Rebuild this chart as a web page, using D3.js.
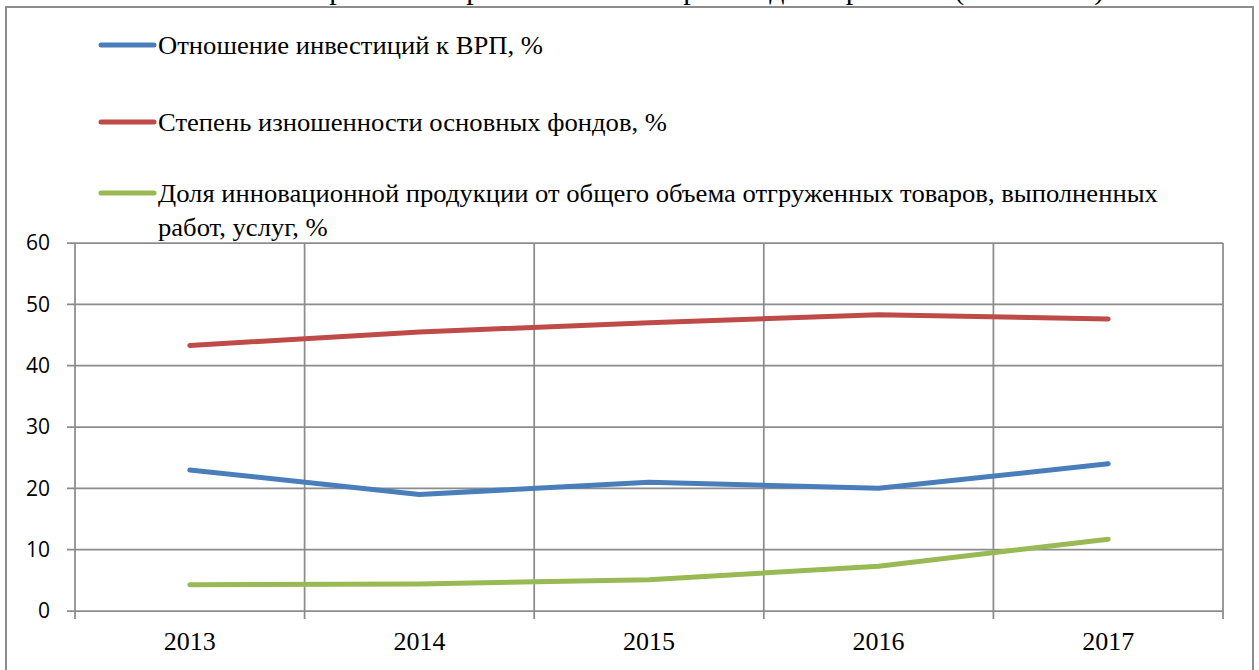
<!DOCTYPE html>
<html>
<head>
<meta charset="utf-8">
<script src="https://cdn.jsdelivr.net/npm/d3@7"></script>
<style>
  html, body { margin: 0; padding: 0; background: #fff; overflow: hidden; }
</style>
</head>
<body>
<div class="chart"></div>
<script>
// Data
const years = ['2013', '2014', '2015', '2016', '2017'];
const seriesNames = [
  'Отношение инвестиций к ВРП, %',
  'Степень изношенности основных фондов, %',
  'Доля инновационной продукции от общего объема отгруженных товаров, выполненных работ, услуг, %'
];
const investToGrp = [23, 19, 21, 20, 24];
const wearDegree = [43.3, 45.5, 47, 48.3, 47.6];
const innovShare = [4.3, 4.4, 5.1, 7.3, 11.7];
const yTicks = [0, 10, 20, 30, 40, 50, 60];
const colors = ['#4a7ebb', '#be4b48', '#98b954'];

const w = 1259;
const h = 670;
const plot = { left: 75, right: 1223, top: 243, bottom: 611 };
const gridColor = '#8c8c8c';

const series = [investToGrp, wearDegree, innovShare].map((values, i) => ({
  name: seriesNames[i],
  color: colors[i],
  values: values
}));

const svg = d3.select('.chart')
  .append('svg')
  .attr('width', w)
  .attr('height', h);

// title, cut off by the top edge as in the source picture
svg.append('text')
  .attr('x', 640)
  .attr('y', -1)
  .attr('text-anchor', 'middle')
  .style('font-family', '"Liberation Serif", "Times New Roman", serif')
  .style('font-size', '30px')
  .text('Показатели развития промышленного производства региона (2013-2017)');

// outer frame
svg.append('rect')
  .attr('x', 6)
  .attr('y', 7)
  .attr('width', 1247)
  .attr('height', 700)
  .attr('fill', 'none')
  .attr('stroke', gridColor)
  .attr('stroke-width', 2);

const xScale = d3.scaleBand()
  .domain(years)
  .range([plot.left, plot.right])
  .padding(0);

const yScale = d3.scaleLinear()
  .domain([0, 60])
  .range([plot.bottom, plot.top]);

// horizontal gridlines
svg.append('g')
  .selectAll('line')
  .data(yTicks)
  .enter()
  .append('line')
  .attr('x1', plot.left - 8)
  .attr('x2', plot.right)
  .attr('y1', (d) => yScale(d))
  .attr('y2', (d) => yScale(d))
  .attr('stroke', gridColor)
  .attr('stroke-width', 1.75);

// vertical gridlines at category boundaries
const bounds = years.map((y) => xScale(y)).concat([plot.right]);
svg.append('g')
  .selectAll('line')
  .data(bounds)
  .enter()
  .append('line')
  .attr('x1', (d) => d)
  .attr('x2', (d) => d)
  .attr('y1', plot.top)
  .attr('y2', plot.bottom + 8)
  .attr('stroke', gridColor)
  .attr('stroke-width', 1.75);

// y axis labels
const yAxis = d3.axisLeft(yScale)
  .tickValues(yTicks)
  .tickSize(0)
  .tickPadding(25);

const yAxisG = svg.append('g')
  .attr('transform', `translate(${plot.left},0)`)
  .call(yAxis);
yAxisG.select('.domain').remove();
yAxisG.selectAll('.tick text')
  .style('font-family', '"Open Sans", sans-serif')
  .style('font-size', '21px')
  .style('fill', '#000');

// x axis labels
const xAxis = d3.axisBottom(xScale)
  .tickSize(0)
  .tickPadding(21);

const xAxisG = svg.append('g')
  .attr('transform', `translate(0,${plot.bottom})`)
  .call(xAxis);
xAxisG.select('.domain').remove();
xAxisG.selectAll('.tick text')
  .style('font-family', '"Liberation Serif", "Times New Roman", serif')
  .style('font-size', '26px')
  .style('fill', '#000');

// lines
const line = d3.line()
  .x((d, i) => xScale(years[i]) + xScale.bandwidth() / 2)
  .y((d) => yScale(d));

svg.append('g')
  .selectAll('path')
  .data(series)
  .enter()
  .append('path')
  .attr('d', (d) => line(d.values))
  .attr('fill', 'none')
  .attr('stroke', (d) => d.color)
  .attr('stroke-width', 5)
  .attr('stroke-linecap', 'round')
  .attr('stroke-linejoin', 'round');

// legend
const legendRows = [
  { y: 45, lines: [seriesNames[0]] },
  { y: 122, lines: [seriesNames[1]] },
  { y: 193, lines: ['Доля инновационной продукции от общего объема отгруженных товаров, выполненных', 'работ, услуг, %'] }
];

const legend = svg.append('g').attr('id', 'legend');
legendRows.forEach((row, i) => {
  legend.append('line')
    .attr('x1', 101)
    .attr('x2', 154)
    .attr('y1', row.y)
    .attr('y2', row.y)
    .attr('stroke', colors[i])
    .attr('stroke-width', 5)
    .attr('stroke-linecap', 'round');

  // the source text is a little wider than Liberation Serif, so stretch it
  const t = legend.append('text')
    .attr('transform', `translate(158,${row.y + 9}) scale(1.065,1)`)
    .style('font-family', '"Liberation Serif", "Times New Roman", serif')
    .style('font-size', '25px')
    .style('fill', '#000');
  row.lines.forEach((s, j) => {
    t.append('tspan')
      .attr('x', 0)
      .attr('dy', j === 0 ? 0 : 34)
      .text(s);
  });
});
</script>
</body>
</html>
